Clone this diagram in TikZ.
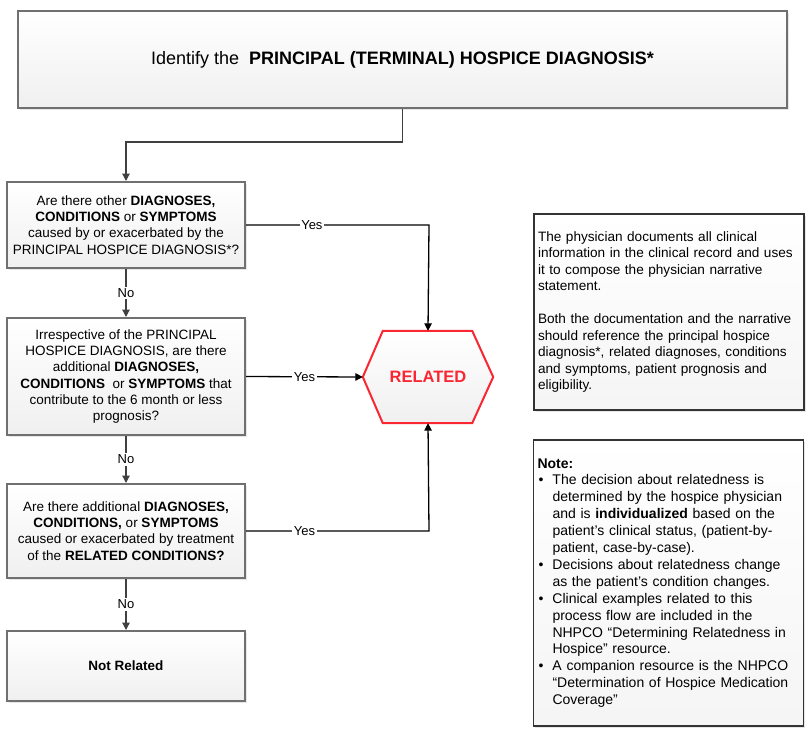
\documentclass[tikz,border=0pt]{standalone}
\usepackage{fontspec}
\setmainfont{Liberation Sans}
\usetikzlibrary{arrows.meta,shadows,backgrounds}

\definecolor{boxgray}{RGB}{112,112,112}
\definecolor{linegray}{RGB}{64,64,64}
\definecolor{relred}{RGB}{250,38,50}

\newcommand{\bul}{\makebox[15pt][l]{\hspace{1pt}\textbullet}}
\newcommand{\ind}{\hspace*{15pt}}

\tikzset{
  stepbox/.style={draw=boxgray, line width=2pt, top color=white, bottom color=gray!12,
    drop shadow={opacity=0.2, shadow xshift=1.5pt, shadow yshift=-1.5pt},
    align=center, inner sep=4pt, font=\fontsize{13.5}{16.3}\selectfont},
  infobox/.style={draw=black!80, line width=1.5pt, top color=white, bottom color=gray!8,
    drop shadow={opacity=0.2, shadow xshift=1.5pt, shadow yshift=-1.5pt},
    align=left, text width=262pt, inner sep=4pt, font=\fontsize{13.6}{16.5}\selectfont},
  flow/.style={->, draw=linegray, line width=1.3pt},
  lab/.style={fill=white, inner sep=1.5pt, font=\fontsize{13}{15}\selectfont},
}

\begin{document}
\begin{tikzpicture}[x=1pt, y=-1pt, >={Triangle[length=7.5pt,width=7.5pt]}]
\useasboundingbox (0,0) rectangle (808,728);

% main question chain
\node[stepbox, minimum width=769pt, minimum height=97pt, font=\fontsize{18}{20}\selectfont] (top) at (402.5,59.5)
  {Identify the\ \ \textbf{PRINCIPAL (TERMINAL) HOSPICE DIAGNOSIS*}};
\node[stepbox, minimum width=238pt, minimum height=86pt] (q1) at (126,225)
  {Are there other \textbf{DIAGNOSES,}\\ \textbf{CONDITIONS} or \textbf{SYMPTOMS}\\ caused by or exacerbated by the\\ PRINCIPAL HOSPICE DIAGNOSIS*?};
\node[stepbox, minimum width=238pt, minimum height=117pt] (q2) at (126,376.5)
  {Irrespective of the PRINCIPAL\\ HOSPICE DIAGNOSIS, are there\\ additional \textbf{DIAGNOSES,}\\ \textbf{CONDITIONS}\ \ or \textbf{SYMPTOMS} that\\ contribute to the 6 month or less\\ prognosis?};
\node[stepbox, minimum width=238pt, minimum height=94pt] (q3) at (126,531)
  {Are there additional \textbf{DIAGNOSES,}\\ \textbf{CONDITIONS,} or \textbf{SYMPTOMS}\\ caused or exacerbated by treatment\\ of the \textbf{RELATED CONDITIONS?}};
\node[stepbox, minimum width=238pt, minimum height=70pt] (notrel) at (126,666)
  {\textbf{Not Related}};

% outcome
\node[minimum width=130pt, minimum height=92pt, inner sep=0pt, text=relred,
  font=\bfseries\fontsize{16.5}{18}\selectfont] (related) at (428,377) {RELATED};
\begin{scope}[on background layer]
\draw[draw=relred, line width=2pt, top color=white, bottom color=gray!12]
  (related.west) -- ([xshift=20pt]related.north west) -- ([xshift=-21pt]related.north east)
  -- (related.east) -- ([xshift=-21pt]related.south east) -- ([xshift=20pt]related.south west) -- cycle;
\end{scope}

% side notes
\node[infobox, minimum height=196pt] (physician) at (669,312)
  {The physician documents all clinical\\ information in the clinical record and uses\\ it to compose the physician narrative\\ statement.\\[16.5pt]
   Both the documentation and the narrative\\ should reference the principal hospice\\ diagnosis*, related diagnoses, conditions\\ and symptoms, patient prognosis and\\ eligibility.};
\node[infobox, minimum height=286pt, font=\fontsize{14}{16.9}\selectfont] (note) at (668.5,583)
  {\textbf{Note:}\\
   \bul The decision about relatedness is\\
   \ind determined by the hospice physician\\
   \ind and is \textbf{individualized} based on the\\
   \ind patient's clinical status, (patient-by-\\
   \ind patient, case-by-case).\\
   \bul Decisions about relatedness change\\
   \ind as the patient's condition changes.\\
   \bul Clinical examples related to this\\
   \ind process flow are included in the\\
   \ind NHPCO “Determining Relatedness in\\
   \ind Hospice” resource.\\
   \bul A companion resource is the NHPCO\\
   \ind “Determination of Hospice Medication\\
   \ind Coverage”};

% connectors
\draw[flow] (top.south) -- ++(0,33) -| (q1.north);
\draw[flow] (q1.south) -- node[lab] {No} (q2.north);
\draw[flow] (q2.south) -- node[lab] {No} (q3.north);
\draw[flow] (q3.south) -- node[lab] {No} (notrel.north);
\draw[flow, draw=black] (q1.east) -- node[lab, pos=0.36] {Yes} ++(183,0) -- (related.north);
\draw[flow, draw=black] (q2.east) -- node[lab] {Yes} (related.west);
\draw[flow, draw=black] (q3.east) -- node[lab, pos=0.32] {Yes} ++(183,0) -- (related.south);
\end{tikzpicture}
\end{document}
